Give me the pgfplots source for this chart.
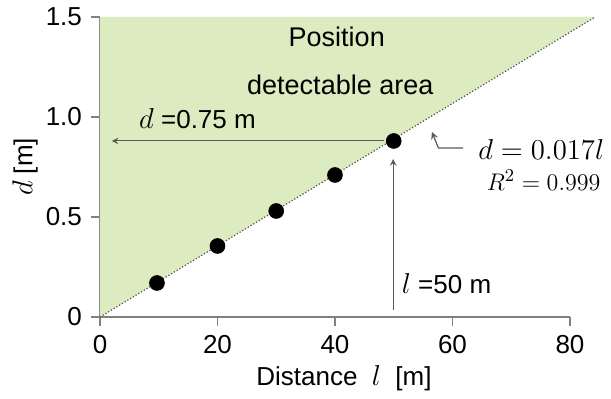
\documentclass[border=0pt]{standalone}
\usepackage{fontspec}
\setmainfont{Liberation Sans}
\usepackage{pgfplots}
\pgfplotsset{compat=1.18}
\definecolor{areagreen}{RGB}{221,235,193}
\definecolor{axgray}{RGB}{128,128,128}
\definecolor{arrgray}{RGB}{90,90,90}
\begin{document}
\begin{tikzpicture}
\fontsize{13}{15}\selectfont
\begin{axis}[
  scale only axis,
  width=235pt, height=150pt,
  xmin=0, xmax=80, ymin=0, ymax=1.5,
  clip=false,
  axis lines=left,
  axis line style={-, axgray, line width=0.8pt},
  tick style={axgray, line width=0.8pt},
  tick align=outside,
  major tick length=4.5pt,
  xtick={0,20,40,60,80},
  ytick={0,0.5,1.0,1.5},
  yticklabels={0,0.5,1.0,1.5},
  /pgf/number format/assume math mode=true,
  tick label style={font=\fontsize{13}{15}\selectfont},
  xlabel={Distance\ \ {\fontsize{15}{17}\selectfont$l$}\ \ [m]},
  ylabel={{\fontsize{15}{17}\selectfont$d$} [m]},
  label style={font=\fontsize{13}{15}\selectfont},
  every axis y label/.style={at={(axis description cs:-0.1596,0.5)}, rotate=90, anchor=center, inner sep=0pt},
  every axis x label/.style={at={(axis description cs:0.519,-0.203)}, anchor=center, inner sep=0pt},
]
\addplot[draw=none, fill=areagreen] coordinates {(0,0) (84.3,1.5) (0,1.5)} -- cycle;
\addplot[black!70, densely dotted, line width=0.6pt] coordinates {(0,0) (84.3,1.5)};
\addplot[only marks, mark=*, mark size=3.7pt, black] coordinates {
(9.7,0.17) (20,0.355) (30,0.53) (40,0.71) (50,0.88)};
\draw[arrgray, line width=0.5pt, -stealth] (axis cs:48.3,0.88) -- (axis cs:2,0.88);
\draw[arrgray, line width=0.5pt, -stealth] (axis cs:49.9,0.035) -- (axis cs:49.9,0.79);
\draw[arrgray, line width=0.6pt, -stealth] (axis cs:61.8,0.845) -- (axis cs:57.6,0.845) -- (axis cs:56.5,0.925);
\node[font=\fontsize{13.5}{15}\selectfont] at (axis cs:40.3,1.40) {Position};
\node[font=\fontsize{13.5}{15}\selectfont] at (axis cs:40.9,1.16) {detectable area};
\node[font=\fontsize{13}{15}\selectfont] at (axis cs:16.6,0.99) {{\fontsize{14.5}{17}\selectfont$d$} =0.75 m};
\node[font=\fontsize{13}{15}\selectfont] at (axis cs:59.0,0.165) {{\fontsize{14.5}{17}\selectfont$l$} =50 m};
\node[inner sep=0pt] at (axis cs:75.1,0.835) {\fontsize{15}{17}\selectfont$d=0.017l$};
\node[inner sep=0pt] at (axis cs:75.5,0.685) {\fontsize{13}{15}\selectfont$R^2=0.999$};
\coordinate (bl) at (axis cs:-17.02,-0.41);
\coordinate (tr) at (axis cs:86.98,1.585);
\end{axis}
\pgfresetboundingbox
\useasboundingbox (bl) rectangle (tr);
\end{tikzpicture}
\end{document}
